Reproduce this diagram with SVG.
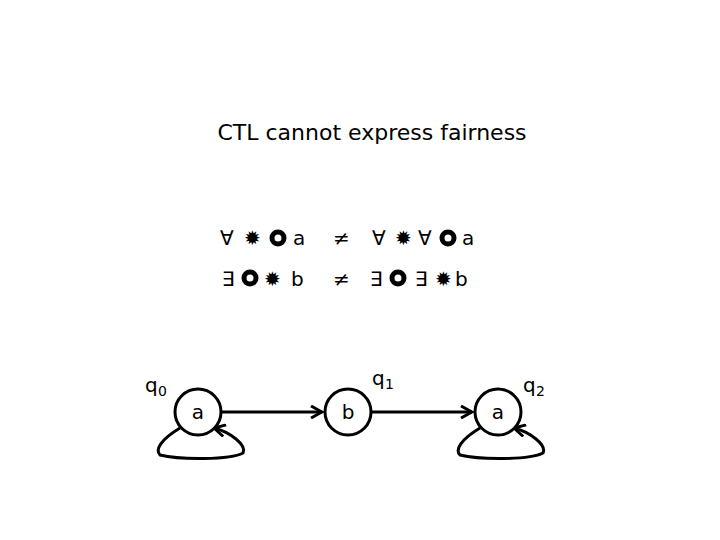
<svg xmlns="http://www.w3.org/2000/svg" width="720" height="540" viewBox="0 0 720 540">
<style>
text{font-family:"DejaVu Sans",sans-serif;fill:#000}
.t{font-size:22px}
.s{font-size:20px}
.n{fill:#fff;stroke:#000;stroke-width:3}
.r{fill:none;stroke:#000;stroke-width:5}
.e{fill:none;stroke:#000;stroke-width:3}
</style>
<defs><marker id="ah" markerWidth="8" markerHeight="8" refX="7" refY="4" orient="auto" markerUnits="userSpaceOnUse" viewBox="0 0 8 8"><path d="M0,0 L8,4 L0,8" fill="none" stroke="#000" stroke-width="2"/></marker>
<marker id="ah2" markerWidth="14" markerHeight="14" refX="12" refY="7" orient="auto" markerUnits="userSpaceOnUse" viewBox="0 0 14 14"><path d="M1,1 L12,7 L1,13" fill="none" stroke="#000" stroke-width="3"/></marker></defs>
<text class="t" x="372" y="140" text-anchor="middle">CTL cannot express fairness</text>
<g id="formulas" class="s">
<text x="220" y="245" class="s">∀</text><text x="244" y="245" class="s">✹</text><circle class="r" cx="278" cy="238" r="6"/><text x="293" y="245" class="s">a</text>
<text x="333" y="245" class="s">≠</text>
<text x="372" y="245" class="s">∀</text><text x="395" y="245" class="s">✹</text><text x="418" y="245" class="s">∀</text><circle class="r" cx="448" cy="238" r="6"/><text x="462" y="245" class="s">a</text>
<text x="222" y="286" class="s">∃</text><circle class="r" cx="250" cy="278" r="6"/><text x="264" y="286" class="s">✹</text><text x="291" y="286" class="s">b</text>
<text x="333" y="286" class="s">≠</text>
<text x="370" y="286" class="s">∃</text><circle class="r" cx="398" cy="278" r="6"/><text x="415" y="286" class="s">∃</text><text x="435" y="286" class="s">✹</text><text x="455" y="286" class="s">b</text>
</g>
<g id="connectors">
<path class="e" d="M222,412 L322,412" marker-end="url(#ah2)"/>
<path class="e" d="M372,412 L472,412" marker-end="url(#ah2)"/>
<path class="e" d="M180,428 C160,440 155,450 160,455 C180,460 230,460 243,453 C247,445 230,432 214,428" marker-end="url(#ah2)"/>
<path class="e" d="M480,428 C460,440 455,450 460,455 C480,460 530,460 543,453 C547,445 530,432 514,428" marker-end="url(#ah2)"/>
</g>
<g id="q0"><circle class="n" cx="198" cy="412" r="23"/><text class="s" x="198" y="419" text-anchor="middle">a</text><text class="s" x="145" y="392">q</text><text x="158" y="396" font-size="14">0</text></g>
<g id="q1"><circle class="n" cx="348" cy="412" r="23"/><text class="s" x="348" y="419" text-anchor="middle">b</text><text class="s" x="372" y="385">q</text><text x="385" y="389" font-size="14">1</text></g>
<g id="q2"><circle class="n" cx="498" cy="412" r="23"/><text class="s" x="498" y="419" text-anchor="middle">a</text><text class="s" x="523" y="392">q</text><text x="536" y="396" font-size="14">2</text></g>
</svg>
